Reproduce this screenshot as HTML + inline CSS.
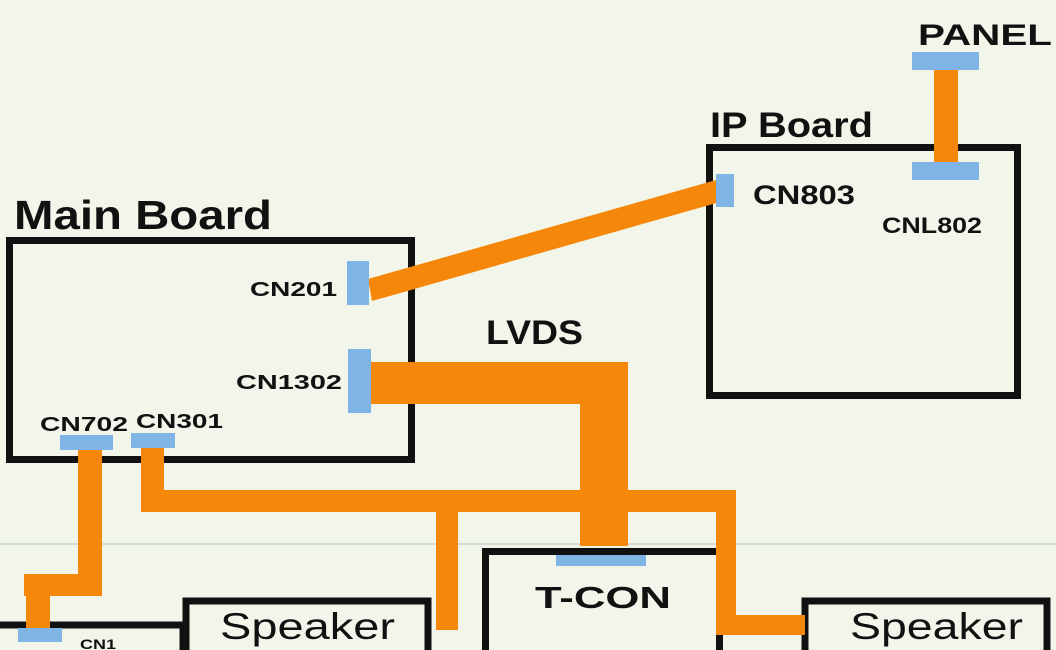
<!DOCTYPE html>
<html><head><meta charset="utf-8"><style>
html,body{margin:0;padding:0;background:#f2f6ea;}
svg{display:block;}
text{font-family:"Liberation Sans",sans-serif;fill:#111;}
</style></head><body>
<svg width="1056" height="650" viewBox="0 0 1056 650" xmlns="http://www.w3.org/2000/svg">
<rect width="1056" height="650" fill="#f2f6ea"/>
<line x1="0" y1="544" x2="1056" y2="544" stroke="#b8c0c8" stroke-width="1"/>
<g fill="none" stroke="#111" stroke-width="7">
<rect x="9.5" y="240.5" width="402" height="219"/>
<rect x="709.5" y="147.5" width="308" height="248"/>
<rect x="485.5" y="551.5" width="234" height="110"/>
<rect x="186" y="601" width="242" height="60"/>
<rect x="805" y="601" width="242" height="60"/>
<rect x="-10" y="625" width="193" height="40"/>
</g>
<g fill="#f5880a">
<polygon points="368,279 716,180 720,202 372,301"/>
<rect x="371" y="362" width="257" height="42"/>
<rect x="580" y="362" width="48" height="184"/>
<rect x="934" y="69" width="24" height="94"/>
<rect x="78" y="449" width="24" height="145"/>
<rect x="24" y="574" width="78" height="22"/>
<rect x="26" y="574" width="24" height="54"/>
<rect x="141" y="447" width="23" height="60"/>
<rect x="141" y="490" width="595" height="22"/>
<rect x="436" y="490" width="22" height="140"/>
<rect x="716" y="490" width="20" height="145"/>
<rect x="716" y="615" width="89" height="20"/>
</g>
<g fill="#7fb4e4">
<rect x="912" y="52" width="67" height="18"/>
<rect x="912" y="162" width="67" height="18"/>
<rect x="716" y="174" width="18" height="33"/>
<rect x="347" y="261" width="22" height="44"/>
<rect x="348" y="349" width="23" height="64"/>
<rect x="60" y="435" width="53" height="15"/>
<rect x="131" y="433" width="44" height="15"/>
<rect x="556" y="555" width="90" height="11"/>
<rect x="18" y="628" width="44" height="14"/>
</g>
<text x="918" y="45" font-size="30" font-weight="bold" textLength="134" lengthAdjust="spacingAndGlyphs">PANEL</text>
<text x="710" y="137" font-size="35" font-weight="bold" textLength="163" lengthAdjust="spacingAndGlyphs" fill="#222">IP Board</text>
<text x="14" y="229" font-size="41" font-weight="bold" textLength="258" lengthAdjust="spacingAndGlyphs">Main Board</text>
<text x="753" y="204" font-size="27" font-weight="bold" textLength="102" lengthAdjust="spacingAndGlyphs">CN803</text>
<text x="882" y="233" font-size="22" font-weight="bold" textLength="100" lengthAdjust="spacingAndGlyphs">CNL802</text>
<text x="250" y="296" font-size="20" font-weight="bold" textLength="87" lengthAdjust="spacingAndGlyphs" fill="#222">CN201</text>
<text x="236" y="389" font-size="20" font-weight="bold" textLength="106" lengthAdjust="spacingAndGlyphs" fill="#222">CN1302</text>
<text x="40" y="431" font-size="20" font-weight="bold" textLength="88" lengthAdjust="spacingAndGlyphs" fill="#222">CN702</text>
<text x="136" y="428" font-size="20" font-weight="bold" textLength="87" lengthAdjust="spacingAndGlyphs" fill="#222">CN301</text>
<text x="486" y="344" font-size="34" font-weight="bold" textLength="97" lengthAdjust="spacingAndGlyphs">LVDS</text>
<text x="535" y="608" font-size="31" font-weight="bold" textLength="136" lengthAdjust="spacingAndGlyphs">T-CON</text>
<text x="220" y="639" font-size="37" textLength="175" lengthAdjust="spacingAndGlyphs">Speaker</text>
<text x="850" y="639" font-size="37" textLength="173" lengthAdjust="spacingAndGlyphs">Speaker</text>
<text x="80" y="649" font-size="14" font-weight="bold" textLength="36" lengthAdjust="spacingAndGlyphs">CN1</text>
</svg>
</body></html>
